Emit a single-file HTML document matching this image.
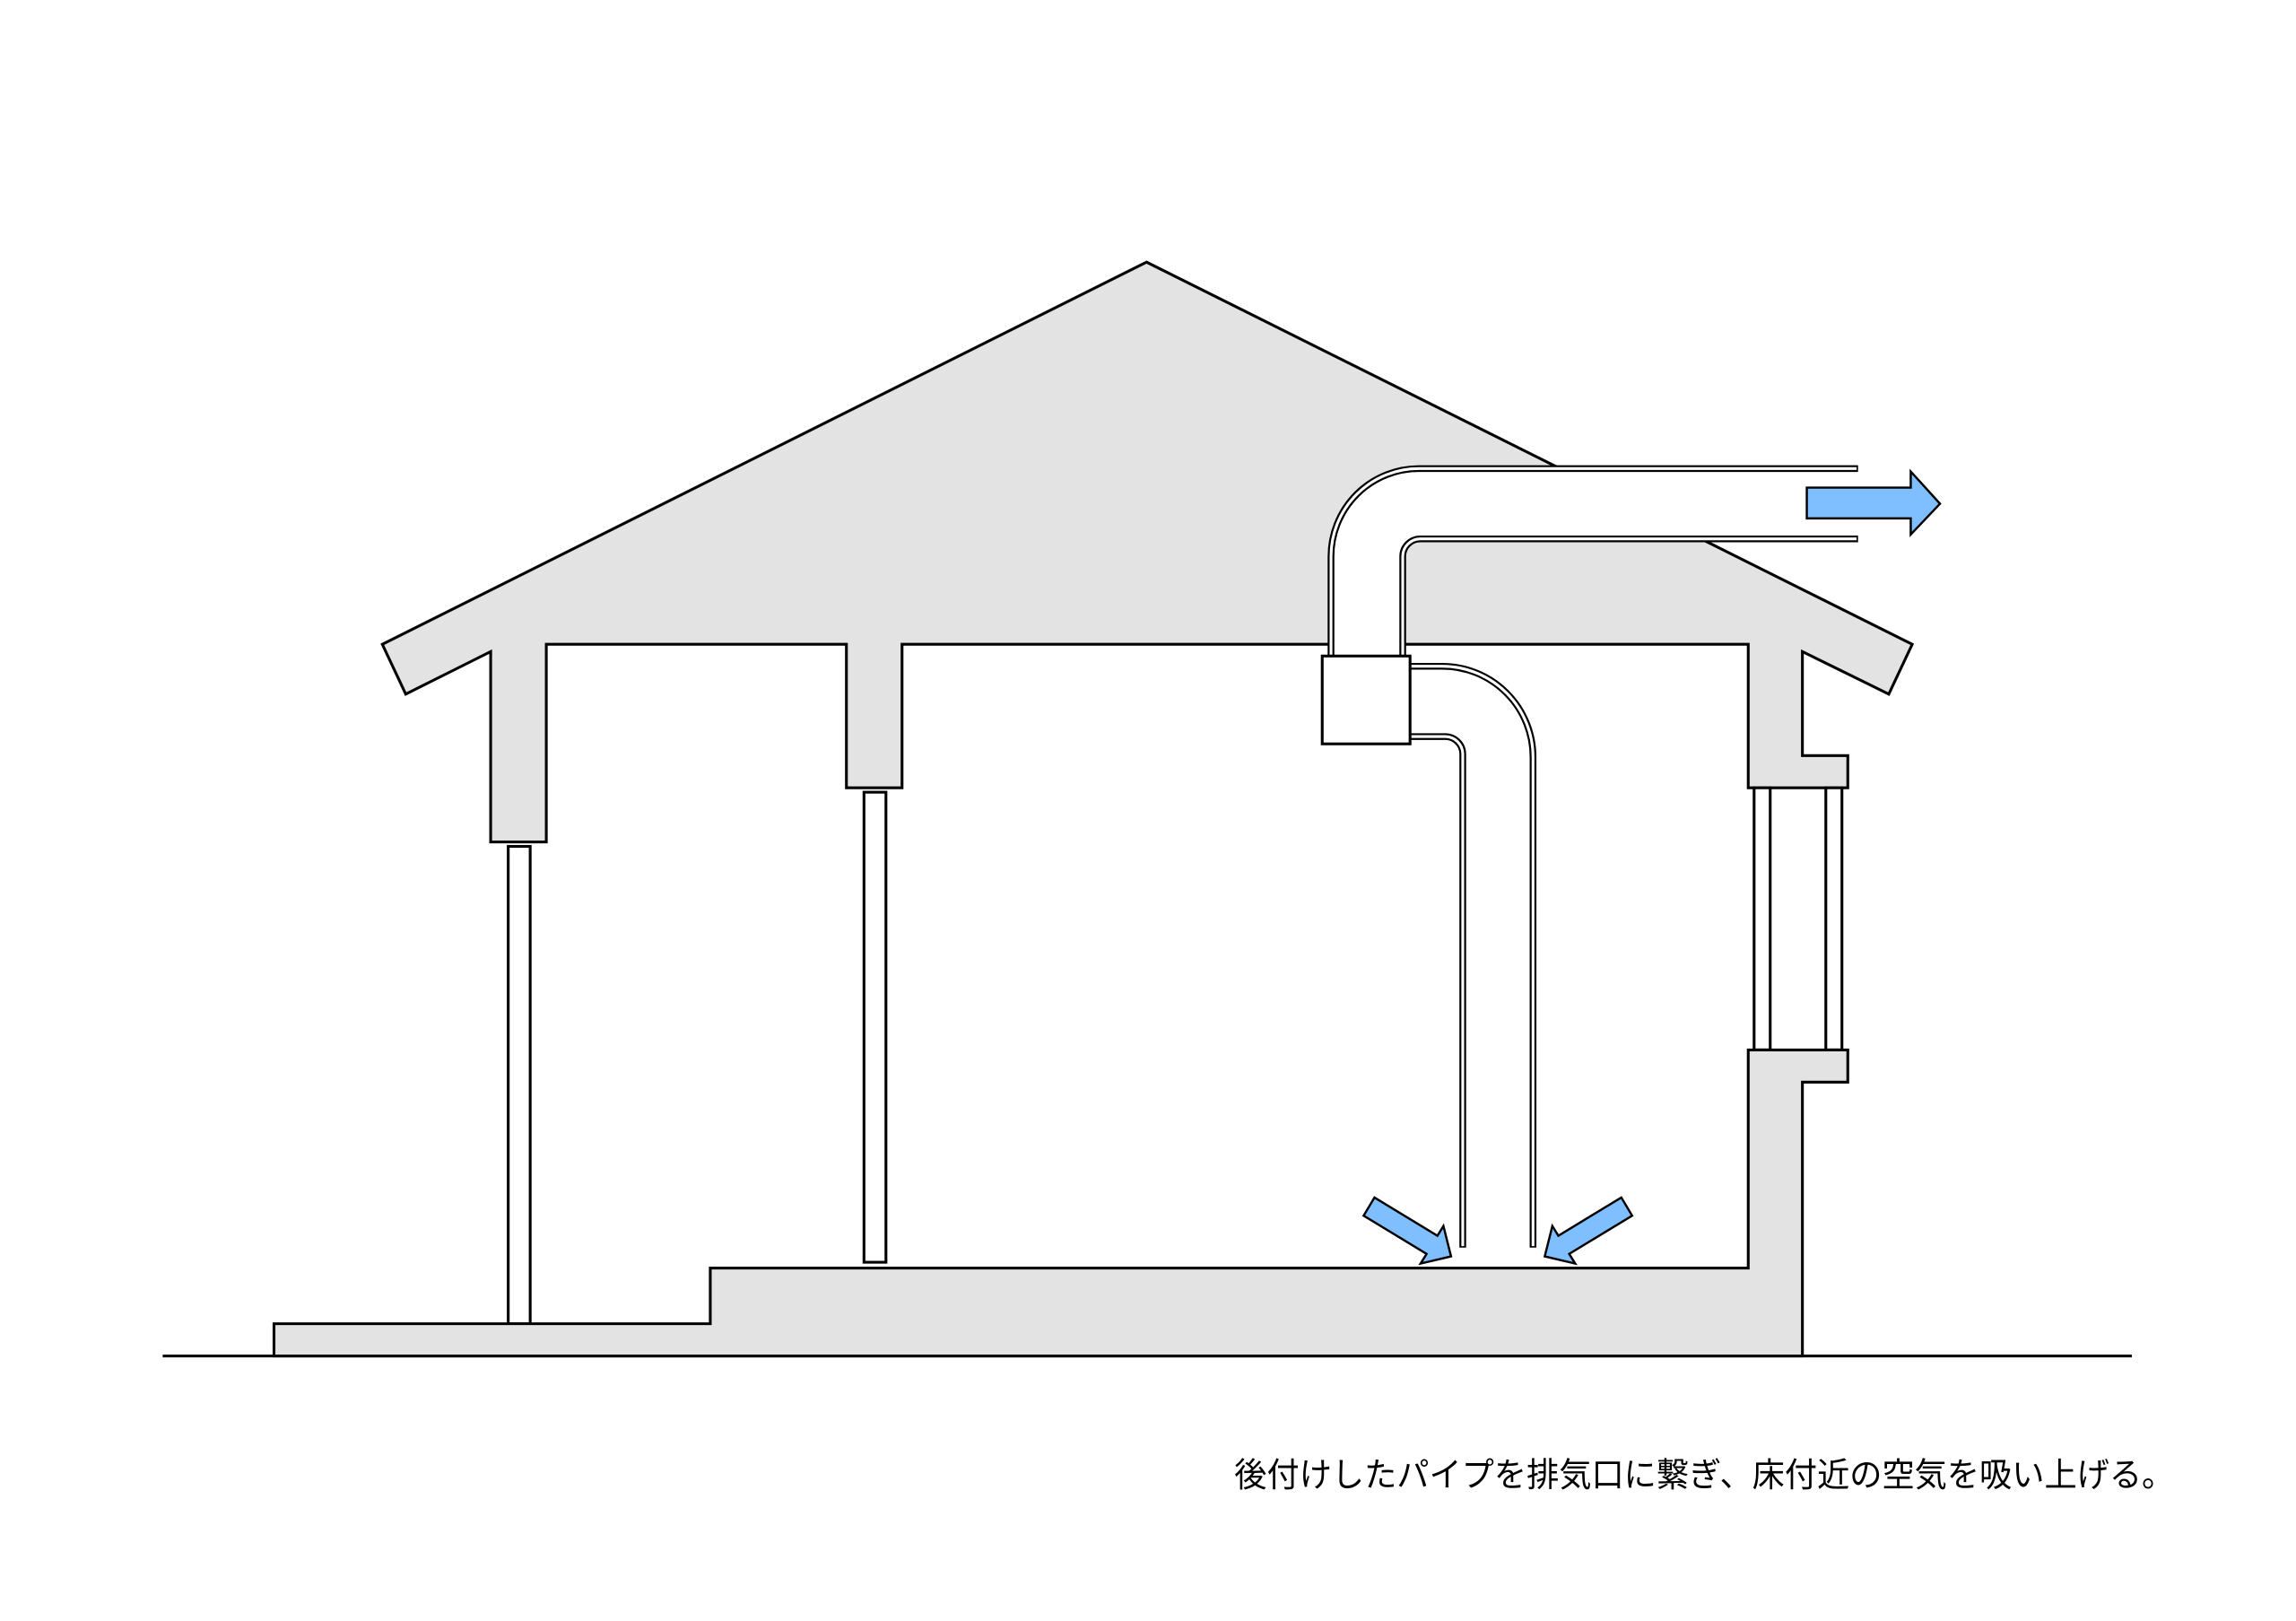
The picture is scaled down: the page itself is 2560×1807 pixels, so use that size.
<!DOCTYPE html>
<html><head><meta charset="utf-8"><style>
html,body{margin:0;padding:0;background:#fff;}
svg{display:block;}
</style></head><body>
<svg width="2560" height="1807" viewBox="0 0 1568 1107" xmlns="http://www.w3.org/2000/svg">
<rect width="1568" height="1107" fill="#fff"/>
<g stroke="#000" stroke-width="1.9" stroke-linejoin="miter">
<polygon fill="#e3e3e3" points="783,179 1306,440 1290,474 1231,445 1231,516 1262,516 1262,538 1194,538 1194,440 616,440 616,538 578,538 578,440 373,440 373,575 335,575 335,445 277,474 261,440"/>
</g>
<path d="M909 448 L909 380 A60 60 0 0 1 969 320 L1269 320 L1269 368 L970 368 A12 12 0 0 0 958 380 L958 448 Z" fill="#fff"/>
<g fill="none" stroke-linecap="butt">
<path d="M909 448 L909 380 A60 60 0 0 1 969 320 L1269 320" stroke="#000" stroke-width="4.6"/>
<path d="M909 448 L909 380 A60 60 0 0 1 969 320 L1268 320" stroke="#fff" stroke-width="1.9"/>
<path d="M958 448 L958 380 A12 12 0 0 1 970 368 L1269 368" stroke="#000" stroke-width="4.6"/>
<path d="M958 448 L958 380 A12 12 0 0 1 970 368 L1268 368" stroke="#fff" stroke-width="1.9"/>
<path d="M960 455 L985 455 A62 62 0 0 1 1047 517 L1047 852" stroke="#000" stroke-width="4.6"/>
<path d="M960 455 L985 455 A62 62 0 0 1 1047 517 L1047 851" stroke="#fff" stroke-width="1.9"/>
<path d="M960 503 L987 503 A12 12 0 0 1 999 515 L999 852" stroke="#000" stroke-width="4.6"/>
<path d="M960 503 L987 503 A12 12 0 0 1 999 515 L999 851" stroke="#fff" stroke-width="1.9"/>
</g>
<g stroke="#000" stroke-width="1.9">
<rect x="903" y="448" width="60" height="60" fill="#fff"/>
<rect x="347" y="578" width="15" height="326" fill="#fff"/>
<rect x="590" y="541" width="15" height="321" fill="#fff"/>
<rect x="1198" y="538" width="11" height="179" fill="#fff"/>
<rect x="1247" y="538" width="11" height="179" fill="#fff"/>
<polygon fill="#e3e3e3" points="187,926 187,904 485,904 485,866 1194,866 1194,717 1262,717 1262,739 1231,739 1231,926"/>
<line x1="111" y1="926" x2="1456" y2="926"/>
</g>
<g fill="#80bfff" stroke="#000" stroke-width="1.5" stroke-linejoin="miter">
<polygon points="1234,333 1305,333 1305,322 1325,344 1305,365 1305,354 1234,354"/>
<polygon points="938.7,817.8 981.7,843.9 985.8,837.3 991,858 970.2,862.9 974.3,856.3 931.3,830.2"/>
<polygon points="1107.3,817.8 1064.3,843.9 1060.2,837.3 1055,858 1075.8,862.9 1071.7,856.3 1114.7,830.2"/>
</g>
<text x="843" y="1015" font-family="'Liberation Sans','Noto Sans CJK JP',sans-serif" font-size="23" fill="#000" textLength="642" lengthAdjust="spacingAndGlyphs">後付けしたパイプを排気口に繋ぎ、床付近の空気を吸い上げる。</text>
</svg>
</body></html>
